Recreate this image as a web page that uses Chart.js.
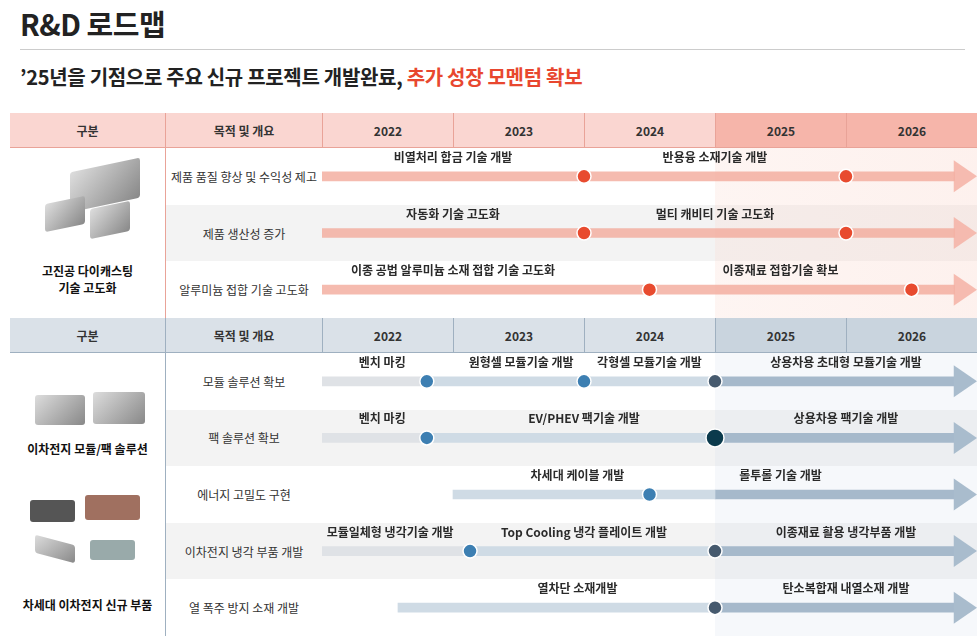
<!DOCTYPE html>
<html><head><meta charset="utf-8">
<script src="https://cdn.jsdelivr.net/npm/chart.js@4.4.1/dist/chart.umd.min.js"></script>
<style>
body{margin:0;width:977px;height:636px;overflow:hidden;background:#fff;font-family:"Noto Sans CJK KR","Noto Sans",sans-serif;color:#222;position:relative}
.abs{position:absolute;box-sizing:border-box}
.h{display:flex;align-items:center;justify-content:center;font-size:12px;font-weight:bold;color:#333}
.lbl{display:flex;align-items:center;justify-content:center;font-size:12px;color:#333;text-align:center}
.cat{font-size:12px;font-weight:bold;text-align:center;color:#111;line-height:17px}
.img{position:absolute;background:linear-gradient(135deg,#ddd,#888);border-radius:3px}
</style></head><body>
<div class="abs" style="left:20px;top:2px;font-size:29px;font-weight:bold;letter-spacing:-0.5px">R&amp;D 로드맵</div>
<div class="abs" style="left:20px;top:49px;width:945px;border-top:1px solid #ccc"></div>
<div class="abs" style="left:20px;top:62px;font-size:20px;font-weight:bold;letter-spacing:-0.3px">’25년을 기점으로 주요 신규 프로젝트 개발완료, <span style="color:#e8472f">추가 성장 모멘텀 확보</span></div>
<div id="tables"></div>
<div class="abs" style="left:322px;top:148px;width:655px;height:170px"><canvas id="top"></canvas></div>
<div class="abs" style="left:322px;top:353px;width:655px;height:283px"><canvas id="bot"></canvas></div>
<script>
const years = ['2022', '2023', '2024', '2025', '2026'];

const topRows = ['제품 품질 향상 및 수익성 제고', '제품 생산성 증가', '알루미늄 접합 기술 고도화'];
const topSpan = [[2022, 2026.83], [2022, 2026.83], [2022, 2026.83]];
const topDots = [[2024, 2026], [2024, 2026], [2024.5, 2026.5]];
const topText = [
    [['비열처리 합금 기술 개발', 2023], ['반용융 소재기술 개발', 2025]],
    [['자동화 기술 고도화', 2023], ['멀티 캐비티 기술 고도화', 2025]],
    [['이종 공법 알루미늄 소재 접합 기술 고도화', 2023], ['이종재료 접합기술 확보', 2025.5]]
];

const botRows = ['모듈 솔루션 확보', '팩 솔루션 확보', '에너지 고밀도 구현', '이차전지 냉각 부품 개발', '열 폭주 방지 소재 개발'];
const botBench = [[2022, 2022.8], [2022, 2022.8], null, [2022, 2023.13], null];
const botDev = [[2022.8, 2025], [2022.8, 2025], [2023, 2025], [2023.13, 2025], [2022.58, 2025]];
const botNext = [[2025, 2026.83], [2025, 2026.83], [2025, 2026.83], [2025, 2026.83], [2025, 2026.83]];
const botDots = [
    [[2022.8, 'b'], [2024, 'b'], [2025, 'd']],
    [[2022.8, 'b'], [2025, 'k']],
    [[2024.5, 'b']],
    [[2023.13, 'b'], [2025, 'd']],
    [[2025, 'd']]
];
const botText = [
    [['벤치 마킹', 2022.46], ['원형셀 모듈기술 개발', 2023.52], ['각형셀 모듈기술 개발', 2024.5], ['상용차용 초대형 모듈기술 개발', 2026]],
    [['벤치 마킹', 2022.46], ['EV/PHEV 팩기술 개발', 2024], ['상용차용 팩기술 개발', 2026]],
    [['차세대 케이블 개발', 2023.95], ['롤투롤 기술 개발', 2025.5]],
    [['모듈일체형 냉각기술 개발', 2022.52], ['Top Cooling 냉각 플레이트 개발', 2024], ['이종재료 활용 냉각부품 개발', 2026]],
    [['열차단 소재개발', 2023.95], ['탄소복합재 내열소재 개발', 2026]]
];

// table backgrounds
const T = document.getElementById('tables');
const colX = [10, 165, 322, 453, 584, 715, 846, 977];
function div(css, html, cls) {
    const d = document.createElement('div');
    d.className = 'abs ' + (cls || '');
    d.style.cssText = css;
    d.innerHTML = html || '';
    T.appendChild(d);
}
function header(top, bg, bg2, line) {
    const heads = ['구분', '목적 및 개요'].concat(years);
    for (let i = 0; i < 7; i++) {
        const c = i >= 5 ? bg2 : bg;
        div(`left:${colX[i]}px;top:${top}px;width:${colX[i + 1] - colX[i]}px;height:35px;background:${c};border-left:${i ? '1px solid ' + line : 'none'};border-bottom:1.5px solid ${line}`, heads[i], 'h');
    }
}
function body(top, rows, rh, tint, line) {
    rows.forEach((r, i) => {
        const y = top + i * rh;
        if (i % 2 === 1) div(`left:165px;top:${y}px;width:812px;height:${rh}px;background:#f3f3f3`);
        div(`left:165px;top:${y}px;width:157px;height:${rh}px;border-left:1px solid ${line}`, r, 'lbl');
    });
    div(`left:715px;top:${top}px;width:262px;height:${rows.length * rh}px;background:${tint}`);
}
header(113, '#fad6d1', '#f6b5aa', '#e9a398');
body(148, topRows, 56.7, 'linear-gradient(90deg,rgba(250,215,205,0.25),rgba(250,215,205,0.35))', '#e9a398');
header(318, '#dae1e8', '#c9d4de', '#9fb0c0');
body(353, botRows, 56.6, 'rgba(215,225,235,0.22)', '#9fb0c0');
div('left:35px;top:160px;width:110px;height:90px', '<div class="img" style="left:35px;top:5px;width:70px;height:40px;transform:skewY(-12deg)"></div><div class="img" style="left:10px;top:40px;width:40px;height:28px;transform:skewY(-12deg)"></div><div class="img" style="left:55px;top:45px;width:40px;height:30px;transform:skewY(-12deg)"></div>');
div('left:10px;top:262px;width:155px', '고진공 다이캐스팅<br>기술 고도화', 'cat');
div('left:35px;top:390px;width:120px;height:40px', '<div class="img" style="left:0;top:5px;width:50px;height:30px"></div><div class="img" style="left:58px;top:2px;width:52px;height:32px"></div>');
div('left:10px;top:440px;width:155px', '이차전지 모듈/팩 솔루션', 'cat');
div('left:30px;top:495px;width:120px;height:80px', '<div class="img" style="left:0;top:5px;width:45px;height:22px;background:#555"></div><div class="img" style="left:55px;top:0;width:55px;height:25px;background:#a07060"></div><div class="img" style="left:5px;top:45px;width:40px;height:18px;transform:skewY(15deg)"></div><div class="img" style="left:60px;top:45px;width:45px;height:20px;background:#9aa"></div>');
div('left:10px;top:596px;width:155px', '차세대 이차전지 신규 부품', 'cat');

// draws arrow tips and milestone captions from the scales
const overlay = {
    id: 'overlay',
    afterDatasetsDraw(chart, args, opts) {
        const ctx = chart.ctx, xs = chart.scales.x, ys = chart.scales.y;
        ctx.save();
        opts.rows.forEach((r, i) => {
            const y = ys.getPixelForValue(i);
            const x0 = xs.getPixelForValue(opts.span[i][1]);
            const x1 = xs.getPixelForValue(2027);
            ctx.fillStyle = opts.arrow;
            ctx.beginPath();
            ctx.moveTo(x0 - 1, y - 16);
            ctx.lineTo(x1, y);
            ctx.lineTo(x0 - 1, y + 16);
            ctx.closePath();
            ctx.fill();
            ctx.fillStyle = '#2a2a2a';
            ctx.font = 'bold 12px "Noto Sans CJK KR", sans-serif';
            ctx.textAlign = 'center';
            ctx.textBaseline = 'middle';
            opts.text[i].forEach(t => ctx.fillText(t[0], xs.getPixelForValue(t[1]), y - 19));
        });
        ctx.restore();
    }
};

function bars(label, spans, color) {
    return {
        type: 'bar', label: label,
        data: spans.map((s, i) => s ? { x: s, y: i } : null).filter(Boolean),
        backgroundColor: color, barThickness: 9, grouped: false, borderSkipped: false, order: 2
    };
}
function dots(list, colors, sizes) {
    const pts = [], bg = [], rad = [];
    list.forEach((row, i) => row.forEach(d => {
        const k = Array.isArray(d) ? d[1] : 'r';
        const x = Array.isArray(d) ? d[0] : d;
        pts.push({ x: x, y: i });
        bg.push(colors[k]);
        rad.push(sizes[k]);
    }));
    return {
        type: 'scatter', data: pts, backgroundColor: bg, pointRadius: rad,
        borderColor: '#fff', borderWidth: 1.5, order: 1, clip: false
    };
}
function opts(rows, span, text, arrow) {
    return {
        responsive: true, maintainAspectRatio: false, animation: false,
        indexAxis: 'y',
        layout: { padding: 0, autoPadding: false },
        scales: {
            x: { type: 'linear', min: 2022, max: 2027, display: false },
            y: { type: 'category', labels: rows.map((r, i) => i), offset: true, display: false }
        },
        plugins: { legend: { display: false }, tooltip: { enabled: false }, overlay: { rows: rows, span: span, text: text, arrow: arrow } }
    };
}

new Chart(document.getElementById('top'), {
    data: {
        labels: topRows.map((r, i) => i),
        datasets: [
            bars('개발', topSpan, 'rgba(242,170,155,0.8)'),
            dots(topDots, { r: '#e84b2f' }, { r: 7 })
        ]
    },
    options: opts(topRows, topSpan, topText, 'rgba(244,178,164,0.85)'),
    plugins: [overlay]
});

new Chart(document.getElementById('bot'), {
    data: {
        labels: botRows.map((r, i) => i),
        datasets: [
            bars('벤치마킹', botBench, '#dfe2e6'),
            bars('개발', botDev, '#cfdbe5'),
            bars('확장', botNext, '#a6b9cb'),
            dots(botDots, { b: '#3d7fb2', d: '#465a6e', k: '#0b3a4c' }, { b: 7, d: 7, k: 9 })
        ]
    },
    options: opts(botRows, botNext, botText, '#a9bccd'),
    plugins: [overlay]
});
</script>
</body></html>
